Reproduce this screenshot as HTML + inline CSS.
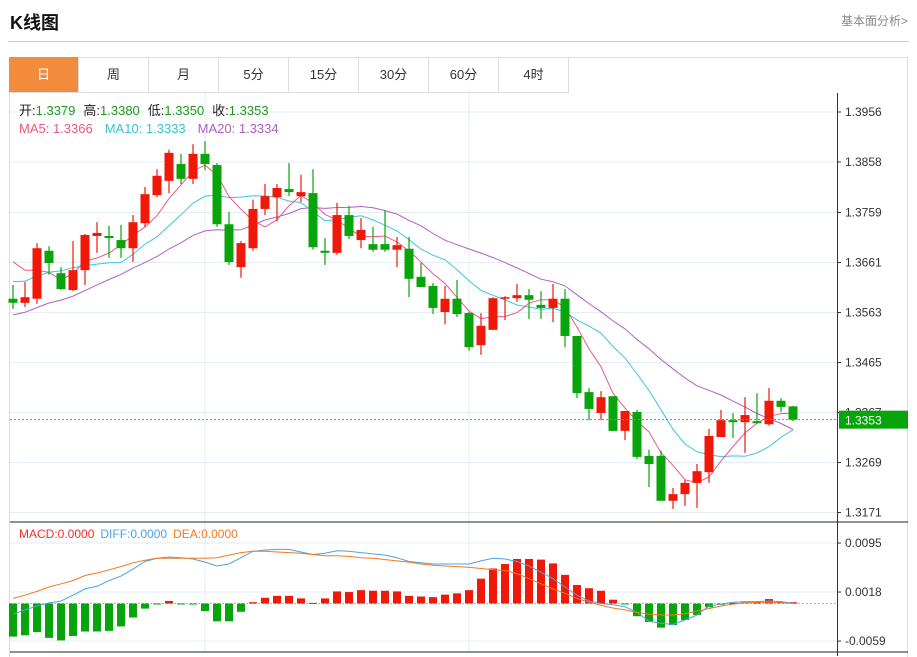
<!DOCTYPE html>
<html><head><meta charset="utf-8"><style>
body{margin:0;background:#fff;width:917px;height:656px;overflow:hidden;font-family:"Liberation Sans","Noto Sans CJK SC",sans-serif;}
#title{position:absolute;left:10px;top:9px;font-size:18px;font-weight:bold;color:#111;}
#more{position:absolute;right:9px;top:12px;font-size:12px;color:#888;}
#hr{position:absolute;left:8px;top:41px;width:901px;height:1px;background:#ccc;}
#box{position:absolute;left:9px;top:57px;width:899px;height:600px;border:1px solid #ddd;border-bottom:none;box-sizing:border-box;}
.tab{position:absolute;top:57px;height:36px;width:70px;border-right:1px solid #ddd;border-bottom:1px solid #ddd;box-sizing:border-box;text-align:center;line-height:36px;font-size:13px;color:#333;}
.tab.on{background:#f28c3c;color:#fff;border-radius:2px 0 0 0;}
svg{position:absolute;left:0;top:0;}
</style></head><body>
<div id="title">K线图</div>
<div id="more">基本面分析&gt;</div>
<div id="hr"></div>
<div id="box"></div>
<div class="tab on" style="left:9px">日</div>
<div class="tab" style="left:79px">周</div>
<div class="tab" style="left:149px">月</div>
<div class="tab" style="left:219px">5分</div>
<div class="tab" style="left:289px">15分</div>
<div class="tab" style="left:359px">30分</div>
<div class="tab" style="left:429px">60分</div>
<div class="tab" style="left:499px">4时</div>
<svg id="chart" width="917" height="656"></svg>
<script>
const priceTicks=[1.3956,1.3858,1.3759,1.3661,1.3563,1.3465,1.3367,1.3269,1.3171];
const macdTicks=[0.0095,0.0018,-0.0059];
const opens=[1.3590,1.3582,1.3590,1.3684,1.3640,1.3607,1.3646,1.3713,1.3713,1.3705,1.3689,1.3738,1.3793,1.3821,1.3854,1.3825,1.3874,1.3852,1.3736,1.3652,1.3689,1.3766,1.3789,1.3805,1.3791,1.3797,1.3684,1.3680,1.3754,1.3705,1.3697,1.3697,1.3686,1.3688,1.3633,1.3615,1.3564,1.3590,1.3562,1.3499,1.3529,1.3590,1.3591,1.3597,1.3578,1.3572,1.3590,1.3517,1.3407,1.3366,1.3399,1.3331,1.3368,1.3282,1.3282,1.3194,1.3207,1.3229,1.3250,1.3319,1.3352,1.3348,1.3350,1.3344,1.3390,1.3379];
const highs=[1.3617,1.3623,1.3699,1.3693,1.3652,1.3703,1.3717,1.3740,1.3733,1.3735,1.3754,1.3809,1.3844,1.3882,1.3874,1.3893,1.3899,1.3856,1.3760,1.3703,1.3784,1.3815,1.3815,1.3856,1.3833,1.3844,1.3709,1.3778,1.3772,1.3748,1.3731,1.3764,1.3711,1.3711,1.3660,1.3621,1.3615,1.3627,1.3564,1.3562,1.3593,1.3595,1.3619,1.3609,1.3605,1.3619,1.3609,1.3517,1.3415,1.3409,1.3399,1.3370,1.3372,1.3294,1.3292,1.3219,1.3235,1.3266,1.3335,1.3372,1.3366,1.3397,1.3405,1.3415,1.3395,1.3380];
const lows=[1.3570,1.3574,1.3580,1.3637,1.3607,1.3605,1.3617,1.3680,1.3670,1.3670,1.3662,1.3731,1.3789,1.3797,1.3815,1.3815,1.3842,1.3731,1.3656,1.3631,1.3684,1.3754,1.3742,1.3791,1.3780,1.3686,1.3656,1.3676,1.3707,1.3689,1.3682,1.3682,1.3652,1.3593,1.3613,1.3560,1.3540,1.3554,1.3488,1.3480,1.3529,1.3548,1.3584,1.3550,1.3550,1.3544,1.3495,1.3395,1.3352,1.3352,1.3331,1.3313,1.3276,1.3221,1.3194,1.3178,1.3184,1.3180,1.3229,1.3319,1.3317,1.3288,1.3346,1.3341,1.3368,1.3350];
const closes=[1.3582,1.3593,1.3689,1.3660,1.3609,1.3646,1.3715,1.3719,1.3709,1.3689,1.3740,1.3795,1.3831,1.3876,1.3825,1.3874,1.3854,1.3736,1.3662,1.3699,1.3766,1.3791,1.3807,1.3799,1.3799,1.3691,1.3680,1.3754,1.3713,1.3725,1.3686,1.3686,1.3695,1.3629,1.3613,1.3572,1.3590,1.3560,1.3495,1.3537,1.3591,1.3593,1.3597,1.3588,1.3572,1.3590,1.3517,1.3405,1.3374,1.3397,1.3331,1.3370,1.3280,1.3266,1.3194,1.3207,1.3229,1.3252,1.3321,1.3352,1.3348,1.3362,1.3346,1.3390,1.3378,1.3353];
const priorCloses=[1.3490,1.3500,1.3485,1.3495,1.3490,1.3500,1.3492,1.3498,1.3490,1.3493,1.3580,1.3590,1.3585,1.3580,1.3585,1.3675,1.3690,1.3680,1.3685];
const macdHist=[-0.0052,-0.0050,-0.0045,-0.0054,-0.0058,-0.0051,-0.0044,-0.0044,-0.0043,-0.0036,-0.0022,-0.0008,-0.0001,0.0004,-0.0001,-0.0001,-0.0012,-0.0028,-0.0028,-0.0013,0.0002,0.0009,0.0012,0.0012,0.0008,0.0001,0.0008,0.0019,0.0018,0.0021,0.0020,0.0020,0.0019,0.0012,0.0011,0.0010,0.0014,0.0016,0.0021,0.0039,0.0055,0.0062,0.0070,0.0070,0.0069,0.0063,0.0045,0.0029,0.0024,0.0020,0.0006,-0.0001,-0.0020,-0.0029,-0.0038,-0.0034,-0.0026,-0.0018,-0.0006,-0.0002,0.0001,0.0002,0.0002,0.0007,0.0003,0.0002];
const diffVals=[-0.0017,-0.0010,-0.0004,0.0001,0.0004,0.0013,0.0023,0.0027,0.0036,0.0043,0.0054,0.0066,0.0071,0.0073,0.0072,0.0070,0.0065,0.0059,0.0062,0.0072,0.0082,0.0084,0.0085,0.0085,0.0081,0.0077,0.0079,0.0083,0.0082,0.0080,0.0078,0.0076,0.0072,0.0066,0.0064,0.0062,0.0062,0.0062,0.0062,0.0067,0.0071,0.0070,0.0066,0.0059,0.0049,0.0039,0.0026,0.0013,0.0004,0.0000,-0.0002,-0.0005,-0.0014,-0.0028,-0.0031,-0.0033,-0.0026,-0.0018,-0.0004,-0.0001,0.0002,0.0003,0.0003,0.0004,0.0003,0.0000];
const deaVals=[0.0008,0.0013,0.0019,0.0026,0.0031,0.0036,0.0044,0.0048,0.0053,0.0058,0.0064,0.0068,0.0071,0.0071,0.0071,0.0071,0.0071,0.0072,0.0076,0.0080,0.0082,0.0082,0.0081,0.0080,0.0079,0.0077,0.0075,0.0075,0.0074,0.0072,0.0071,0.0069,0.0067,0.0065,0.0062,0.0060,0.0059,0.0058,0.0057,0.0055,0.0053,0.0052,0.0047,0.0039,0.0031,0.0023,0.0016,0.0008,0.0002,-0.0003,-0.0007,-0.0010,-0.0014,-0.0017,-0.0018,-0.0018,-0.0016,-0.0012,-0.0008,-0.0004,-0.0001,0.0001,0.0002,0.0002,0.0001,0.0000];

const NS='http://www.w3.org/2000/svg';
const svg=document.getElementById('chart');
function mk(tag,attrs,parent){const e=document.createElementNS(NS,tag);for(const k in attrs)e.setAttribute(k,attrs[k]);(parent||svg).appendChild(e);return e;}
const xAt=i=>13+12*i;
const yP=v=>112+(1.3956-v)*5102;
const yM=v=>603.5-v*6364;
const AX=837;

// grid
priceTicks.forEach(t=>{const l=mk('line',{x1:10,x2:AX,y1:yP(t),y2:yP(t),stroke:'#e2edf4','stroke-width':1});

});
macdTicks.forEach(t=>{const l=mk('line',{x1:10,x2:AX,y1:yM(t),y2:yM(t),stroke:'#e2edf4','stroke-width':1});

});
[16,38].forEach(i=>{const l=mk('line',{x1:xAt(i),x2:xAt(i),y1:93,y2:652,stroke:'#e2edf4','stroke-width':1});

});

// moving averages
const all=priorCloses.concat(closes);
function ma(n){return closes.map((c,i)=>{const j=i+priorCloses.length;let s=0;for(let k=j-n+1;k<=j;k++)s+=all[k];return s/n;});}
function line(vals,yf,color,name,w){const pts=vals.map((v,i)=>xAt(i)+','+yf(v).toFixed(1)).join(' ');
const p=mk('polyline',{points:pts,fill:'none',stroke:color,'stroke-width':w||1});

}
line(ma(20),yP,'#b45ec6','ma20-line');
line(ma(10),yP,'#3cc6dc','ma10-line');
line(ma(5),yP,'#ea5a86','ma5-line');

// candles
closes.forEach((c,i)=>{const o=opens[i],up=c>=o,col=up?'#f01808':'#08a40c';const x=xAt(i);
const g=mk('g',{});


mk('line',{x1:x,x2:x,y1:yP(highs[i]),y2:yP(lows[i]),stroke:col,'stroke-width':1.2},g);
const top=yP(Math.max(o,c)),bot=yP(Math.min(o,c));
mk('rect',{x:x-4.5,y:top,width:9,height:Math.max(1.5,bot-top),fill:col},g);});

// last price line
const lp=closes[closes.length-1];
const dl=mk('line',{x1:10,x2:AX,y1:yP(lp),y2:yP(lp),stroke:'#3cb83c','stroke-width':1,'stroke-dasharray':'2,2'});



// macd
const z=mk('line',{x1:10,x2:AX,y1:yM(0),y2:yM(0),stroke:'#7fc8e8','stroke-width':1,'stroke-dasharray':'2,2'});


macdHist.forEach((v,i)=>{const y0=yM(0),y1=yM(v);
const r=mk('rect',{x:xAt(i)-4,y:Math.min(y0,y1),width:8,height:Math.max(1,Math.abs(y1-y0)),fill:v>=0?'#f01808':'#08a40c'});

});
line(diffVals,yM,'#4aa3e8','diff-line');
line(deaVals,yM,'#f07a1e','dea-line');

// frame lines
[[10,908,522,522],[10,908,652,652]].forEach(a=>{const l=mk('line',{x1:a[0],x2:a[1],y1:a[2],y2:a[3],stroke:'#222','stroke-width':1});

});
const ax=mk('line',{x1:AX+.5,x2:AX+.5,y1:93,y2:656,stroke:'#333','stroke-width':1});



// tick labels
priceTicks.forEach(t=>{const y=yP(t);mk('line',{x1:AX,x2:AX+4,y1:y,y2:y,stroke:'#333'});
const tx=mk('text',{x:845,y:y+4,'font-size':12,fill:'#333'});tx.textContent=t.toFixed(4);

});
macdTicks.forEach(t=>{const y=yM(t);mk('line',{x1:AX,x2:AX+4,y1:y,y2:y,stroke:'#333'});
const tx=mk('text',{x:845,y:y+4,'font-size':12,fill:'#333'});tx.textContent=t.toFixed(4);

});

// last price tag
const ly=yP(lp);
const tag=mk('rect',{x:AX+2,y:ly-9,width:69,height:18,fill:'#08a40c'});


const tt=mk('text',{x:845,y:ly+5,'font-size':12,fill:'#fff'});tt.textContent=lp.toFixed(4);



// legends
function legend(y,parts,size,name){const t=mk('text',{x:19,y:y,'font-size':size});


parts.forEach(p=>{const s=mk('tspan',{fill:p[1]},t);if(p[2])s.setAttribute('dx',p[2]);s.textContent=p[0];});}
legend(115,[['开:','#222'],['1.3379','#1a9a1a'],['高:','#222',8],['1.3380','#1a9a1a'],['低:','#222',8],['1.3350','#1a9a1a'],['收:','#222',8],['1.3353','#1a9a1a']],13,'ohlc-legend');
legend(133,[['MA5: 1.3366','#e8587f'],['MA10: 1.3333','#37c2d8',12],['MA20: 1.3334','#b05dc4',12]],13,'ma-legend');
legend(538,[['MACD:0.0000','#f0302a'],['DIFF:0.0000','#4aa3e8',6],['DEA:0.0000','#f07a1e',6]],12,'macd-legend');
</script>
</body></html>
